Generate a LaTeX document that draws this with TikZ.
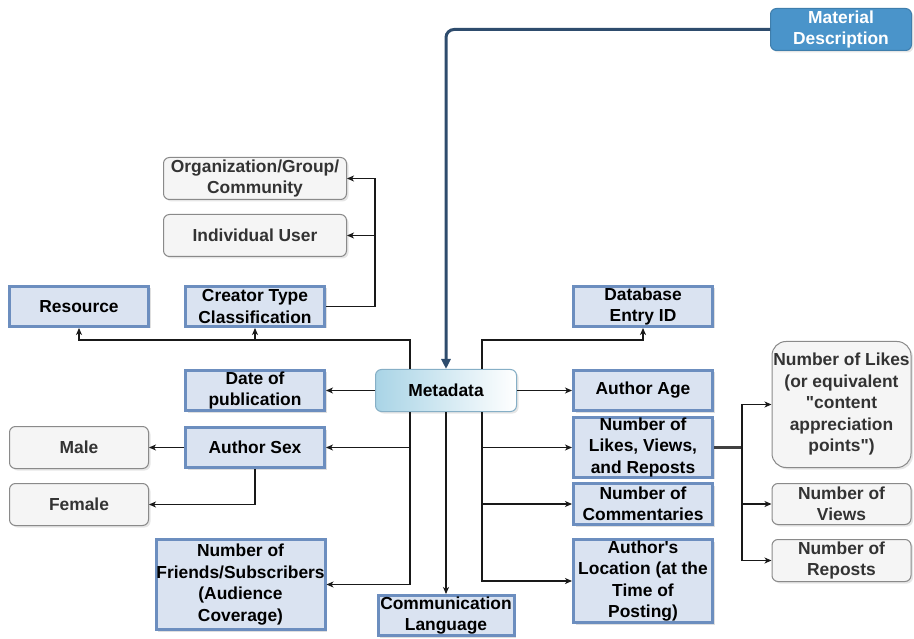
\documentclass[tikz,border=0pt]{standalone}
\usepackage{fontspec}
\newfontfamily\diagfont{Liberation Sans}
\usepackage{xcolor}
\usepackage{tikz}
\usetikzlibrary{arrows.meta,positioning,calc,shadows}

\definecolor{itemfill}{HTML}{DAE3F1}
\definecolor{itemline}{HTML}{6C8EBF}
\definecolor{leaffill}{HTML}{F5F5F5}
\definecolor{leafline}{HTML}{8A8A8A}
\definecolor{leaftext}{HTML}{333333}
\definecolor{hubline}{HTML}{86AFC6}
\definecolor{hubleft}{HTML}{A9D4E6}
\definecolor{srcfill}{HTML}{4A94CA}
\definecolor{navy}{HTML}{2E4C6D}

\begin{document}
\begin{tikzpicture}[
  x=1pt, y=-1pt,
  font=\diagfont\fontsize{17.4}{21.5}\selectfont\bfseries,
  box/.style={inner sep=0pt, align=center, minimum width=#1},
  box/.default=139pt,
  item/.style={box=#1, draw=itemline, fill=itemfill, line width=3pt, minimum height=40pt,
               drop shadow={shadow xshift=2pt, shadow yshift=-2pt, opacity=.25}},
  item/.default=139pt,
  leaf/.style={box=#1, draw=leafline, fill=leaffill, text=leaftext, line width=1pt,
               rounded corners=6pt, minimum height=42pt,
               drop shadow={shadow xshift=2pt, shadow yshift=-2pt, opacity=.2}},
  leaf/.default=139pt,
  hub/.style={box=141pt, draw=hubline, line width=1pt, rounded corners=6pt, minimum height=42pt,
              left color=hubleft, right color=white,
              drop shadow={shadow xshift=2pt, shadow yshift=-2pt, opacity=.2}},
  src/.style={box=141pt, draw=srcfill!85!black, fill=srcfill, text=white, line width=1pt,
              rounded corners=6pt, minimum height=42pt,
              drop shadow={shadow xshift=2pt, shadow yshift=-2pt, opacity=.2}},
  link/.style={-{Stealth[length=7pt,width=6pt,inset=2pt]}, line width=1.3pt, draw=black!90},
  feed/.style={-{Triangle[length=10pt,width=9pt]}, line width=3pt, draw=navy, rounded corners=8pt},
  bar/.style={line width=3pt, draw=black!75}
]
\useasboundingbox (0,0) rectangle (914,639);

% hub and source
\node[src] (matdesc) at (841,29.5) {Material\\Description};
\node[hub] (meta) at (446,390.5) {Metadata};

% left branch
\node[item] (resource) at (79,306.5) {Resource};
\node[item] (creator) at (255,306.5) {Creator Type\\Classification};
\node[leaf=183pt] (org) at (255,178.5) {Organization/Group/\\Community};
\node[leaf=183pt] (indiv) at (255,235.5) {Individual User};
\node[item] (date) at (255,390.5) {Date of\\publication};
\node[item] (sex) at (255,447.5) {Author Sex};
\node[leaf] (male) at (79,447.5) {Male};
\node[leaf] (female) at (79,504.5) {Female};
\node[item=169pt, minimum height=90pt] (friends) at (240.5,584.5)
  {Number of\\Friends/Subscribers\\(Audience\\Coverage)};
\node[item=136pt] (comm) at (446,615.5) {Communication\\Language};

% right branch
\node[item] (dbid) at (643,306.5) {Database\\Entry ID};
\node[item] (age) at (643,390.5) {Author Age};
\node[item, minimum height=54pt] (lvr) at (643,447.5) {Number of\\Likes, Views,\\and Reposts};
\node[item, minimum height=41pt] (comments) at (643,504) {Number of\\Commentaries};
\node[item, minimum height=83pt] (location) at (643,581)
  {Author's\\Location (at the\\Time of\\Posting)};
\node[leaf, rounded corners=14pt, minimum height=126pt] (likes) at (841.5,404.5)
  {Number of Likes\\(or equivalent\\"content\\appreciation\\points")};
\node[leaf, minimum height=41pt] (views) at (841.5,504) {Number of\\Views};
\node[leaf] (reposts) at (841.5,560.5) {Number of\\Reposts};

% junctions
\coordinate (jtop) at (410,340);
\coordinate (jcre) at (375,0);
\coordinate (jlvr) at (742,0);

% connectors
\draw[feed] (matdesc.west) -| (meta.north);

\draw[link] ([xshift=-36pt]meta.north) |- (resource.south |- jtop) -- (resource.south);
\draw[link] (creator.south |- jtop) -- (creator.south);
\draw[link] (creator.east) -| (jcre |- org.east) -- (org.east);
\draw[link] (jcre |- indiv.east) -- (indiv.east);
\draw[link] ([xshift=36pt]meta.north) |- (dbid.south |- jtop) -- (dbid.south);

\draw[link] (meta.west) -- (date.east);
\draw[link] (meta.east) -- (age.west);
\draw[link] (meta.south) -- (comm.north);

\draw[link] ([xshift=-36pt]meta.south) |- (friends.east);
\draw[link] ([xshift=-36pt]meta.south |- sex.east) -- (sex.east);
\draw[link] (sex.west) -- (male.east);
\draw[link] (sex.south) |- (female.east);

\draw[link] ([xshift=36pt]meta.south) |- (location.west);
\draw[link] ([xshift=36pt]meta.south |- lvr.west) -- (lvr.west);
\draw[link] ([xshift=36pt]meta.south |- comments.west) -- (comments.west);

\draw[bar] (lvr.east) -- (jlvr |- lvr.east);
\draw[link] (jlvr |- lvr.east) |- (likes.west);
\draw[link] (jlvr |- lvr.east) |- (views.west);
\draw[link] (jlvr |- lvr.east) |- (reposts.west);
\end{tikzpicture}
\end{document}
